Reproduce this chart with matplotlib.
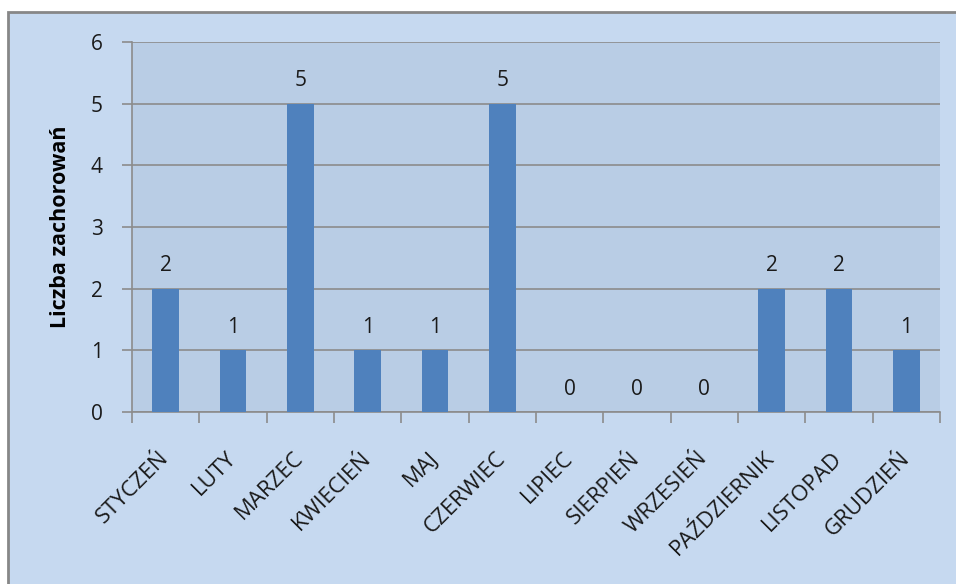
import matplotlib.pyplot as plt
from matplotlib.patches import Rectangle
import numpy as np

months = ['STYCZEŃ', 'LUTY', 'MARZEC', 'KWIECIEŃ', 'MAJ', 'CZERWIEC', 'LIPIEC',
          'SIERPIEŃ', 'WRZESIEŃ', 'PAŹDZIERNIK', 'LISTOPAD', 'GRUDZIEŃ']
cases = [2, 1, 5, 1, 1, 5, 0, 0, 0, 2, 2, 1]
y_ticks = [0, 1, 2, 3, 4, 5, 6]

W, H = 956, 584
plt.rcParams['font.family'] = ['Open Sans', 'DejaVu Sans']

fig = plt.figure(figsize=(W / 100, H / 100), dpi=100, facecolor='white')

# outer chart box, behind the axes
fig.patches.append(Rectangle((8 / W, -0.05), 1.0, (H - 12) / H + 0.05,
                             transform=fig.transFigure, facecolor='#C6D9F0',
                             edgecolor='#878787', linewidth=2, zorder=-10))

ax = fig.add_axes([132 / W, (H - 412) / H, (940 - 132) / W, (412 - 42) / H])
ax.set_facecolor('#B9CDE5')

x = np.arange(len(months))
ax.bar(x, cases, width=0.4, color='#4F81BD', zorder=3)
for xi, v in zip(x, cases):
    ax.text(xi, v + 0.2, str(v), ha='center', va='bottom', fontsize=15, color='#1a1a1a')

ax.set_xlim(-0.5, len(months) - 0.5)
ax.set_ylim(0, 6)
ax.set_yticks(y_ticks)
ax.yaxis.grid(True, color='#8C8C8C', linewidth=1.2, zorder=1)
ax.set_axisbelow(True)

ax.set_xticks(np.arange(-0.5, len(months), 1.0))
ax.set_xticklabels([])
ax.set_xticks(x, minor=True)
ax.set_xticklabels(months, minor=True, rotation=45, ha='right', va='center',
                   rotation_mode='anchor', fontsize=16, color='#1a1a1a')
ax.tick_params(axis='x', which='major', length=8, color='#8C8C8C', width=1.2)
ax.tick_params(axis='x', which='minor', length=0, pad=31)
ax.tick_params(axis='y', length=7, color='#8C8C8C', width=1.2, labelsize=15, pad=14,
               labelcolor='#1a1a1a')

for s in ['top', 'right']:
    ax.spines[s].set_visible(False)
for s in ['left', 'bottom']:
    ax.spines[s].set_color('#8C8C8C')
    ax.spines[s].set_linewidth(1.2)

ax.set_ylabel('Liczba zachorowań', fontsize=15.5, fontweight='bold', labelpad=14)

fig.savefig('out.png', dpi=100, facecolor='white')
